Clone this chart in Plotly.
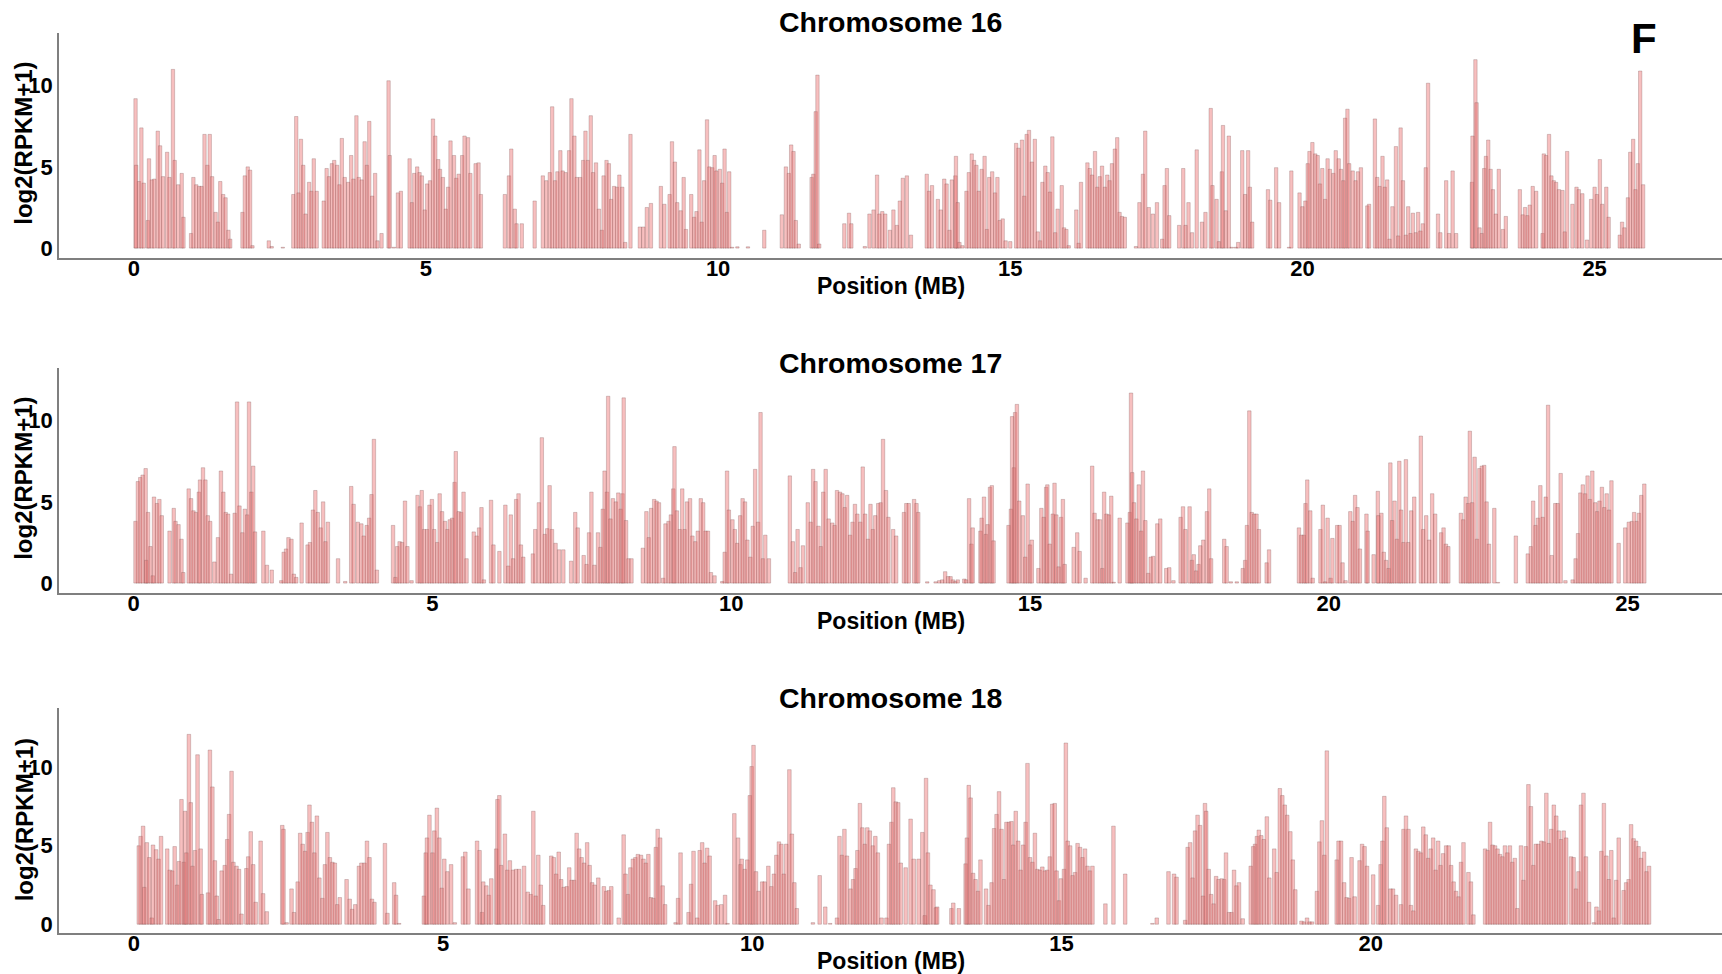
import plotly.graph_objects as go

# ---------------- Chromosome 16 ----------------
chr16_pos = [0.03,0.04,0.09,0.13,0.17,0.24,0.26,0.31,0.35,0.41,0.45,0.50,0.57,0.61,0.67,0.70,0.76,0.82,0.85,
0.98,1.02,1.07,1.12,1.16,1.21,1.26,1.30,1.34,1.40,1.44,1.48,1.53,1.57,1.62,1.65,
1.86,1.90,1.95,1.99,2.03,2.31,2.36,2.55,
2.73,2.78,2.82,2.86,2.90,2.94,3.00,3.04,3.08,3.13,3.25,3.30,3.34,3.39,3.43,3.48,3.52,3.56,3.61,3.67,3.72,3.76,3.81,3.85,3.90,3.95,3.99,4.03,4.08,4.13,4.17,4.24,4.36,4.38,4.45,4.52,4.57,
4.72,4.76,4.80,4.85,4.89,4.93,4.98,5.02,5.07,5.12,5.16,5.21,5.24,5.29,5.34,5.38,5.42,5.48,5.52,5.56,5.62,5.66,5.72,5.76,5.85,5.90,5.94,
6.35,6.42,6.46,6.52,6.55,6.64,6.86,
7.00,7.06,7.12,7.16,7.21,7.25,7.30,7.34,7.39,7.45,7.49,7.54,7.58,7.64,7.69,7.73,7.77,7.82,7.86,7.91,7.96,8.01,8.04,8.09,8.13,8.17,8.22,8.27,8.31,8.36,8.41,8.50,
8.66,8.72,8.78,8.85,9.02,9.08,9.17,9.21,9.26,9.30,9.36,9.41,9.45,9.54,9.59,9.63,9.68,9.72,9.76,9.81,9.85,9.90,9.94,9.97,10.03,10.07,10.11,10.15,10.19,10.24,10.33,10.51,10.79,
11.09,11.16,11.21,11.25,11.29,11.33,11.38,11.60,11.63,11.67,11.70,11.73,
12.16,12.24,12.28,12.51,12.59,12.66,12.72,12.76,12.81,12.86,12.94,13.00,13.06,13.11,13.16,13.23,13.30,
13.57,13.61,13.66,13.76,13.81,13.87,13.91,13.96,14.00,14.06,14.07,14.10,14.13,14.18,14.25,14.29,14.34,14.38,14.42,14.46,14.51,14.56,14.60,14.64,14.69,14.74,14.78,14.82,14.87,14.92,15.00,
15.10,15.14,15.20,15.24,15.28,15.32,15.37,15.42,15.47,15.51,15.55,15.60,15.64,15.68,15.72,15.77,15.81,15.88,15.92,15.96,16.00,
16.13,16.17,16.21,16.32,16.36,16.40,16.45,16.49,16.53,16.57,16.62,16.66,16.70,16.74,16.79,16.83,16.87,16.91,16.96,
17.15,17.21,17.27,17.31,17.37,17.44,17.51,17.60,17.64,17.68,17.72,
17.89,17.96,18.00,18.05,18.11,18.19,18.28,18.34,18.43,18.46,18.53,
18.57,18.62,18.64,18.69,18.74,18.79,18.86,18.90,18.97,19.02,19.07,19.10,19.14,
19.41,19.45,19.55,19.60,19.77,19.81,
19.95,20.00,20.05,20.09,20.12,20.17,20.22,20.26,20.30,20.34,20.39,20.43,20.47,20.53,20.57,20.62,20.66,20.70,20.73,20.77,20.80,20.86,20.91,20.95,21.00,
21.11,21.14,21.24,21.28,21.32,21.37,21.41,21.45,21.49,21.54,21.60,21.64,21.68,21.72,21.77,21.81,21.85,21.89,21.94,21.98,22.02,22.06,22.11,22.15,
22.32,22.36,22.46,22.51,22.57,22.63,
22.90,22.91,22.96,22.98,23.03,23.07,23.11,23.14,23.18,23.22,23.26,23.31,23.36,23.43,23.48,
23.72,23.77,23.81,23.85,23.89,23.94,24.00,24.11,24.13,24.17,24.22,24.26,24.30,24.34,24.39,24.45,24.49,24.53,24.62,
24.69,24.73,24.79,24.87,24.94,25.00,25.04,25.09,25.13,25.20,25.24,
25.43,25.47,25.51,25.57,25.61,25.66,25.70,25.74,25.78,25.83]
chr16_val = [9.2,5.1,4.1,7.4,4.0,1.7,5.5,4.2,4.25,7.2,6.3,4.4,5.9,4.35,11.0,5.4,3.9,4.6,1.9,
0.9,4.35,3.9,3.8,3.8,7.0,5.1,7.0,4.4,2.2,1.6,4.1,3.3,3.1,1.1,0.55,
2.2,4.45,5.0,4.8,0.15,0.45,0.1,0.05,
3.3,8.1,3.4,6.7,5.1,2.1,4.05,3.5,5.5,3.5,2.9,4.9,4.4,5.2,5.4,5.1,3.9,6.75,4.35,4.05,5.7,4.25,8.15,4.35,4.2,6.55,5.1,7.8,3.2,4.6,0.45,0.9,10.3,5.7,0.05,3.4,3.5,
5.5,2.8,4.6,5.0,4.65,4.45,2.35,3.95,4.15,7.95,6.9,5.45,4.85,4.35,2.4,3.75,6.6,5.7,4.3,4.55,5.7,6.9,6.8,4.6,5.2,5.25,3.3,
3.3,4.45,6.1,2.4,1.5,1.5,2.9,
4.45,4.15,4.65,8.7,4.15,4.7,6.0,4.75,4.65,6.0,9.2,6.9,4.35,4.35,5.4,7.2,5.4,8.15,4.65,5.25,2.4,1.1,4.45,5.4,5.2,3.0,3.8,3.75,4.5,3.75,0.35,7.0,
1.3,1.3,2.5,2.75,3.8,2.7,3.3,6.55,5.3,2.8,2.3,4.35,1.15,3.3,1.9,2.25,6.05,1.6,4.15,7.9,5.0,4.95,5.7,4.75,4.85,4.0,6.1,2.2,4.7,0.05,0.08,0.08,1.1,
2.05,5.0,4.6,6.35,5.95,1.7,0.25,4.35,4.55,8.4,10.65,0.25,
1.5,2.15,1.5,0.1,2.1,2.35,4.5,2.1,2.25,2.1,1.1,2.35,1.4,2.9,4.3,4.45,0.8,
4.55,3.5,3.85,3.0,2.35,4.25,3.95,1.1,4.2,4.45,5.65,2.8,0.35,0.15,3.5,4.65,5.8,5.4,5.1,3.5,4.85,5.65,1.15,4.35,4.7,3.4,4.35,1.7,1.8,0.45,0.4,
6.45,6.15,6.65,3.2,7.0,7.25,5.3,6.7,1.0,0.45,4.05,5.05,4.65,3.45,6.85,0.95,2.4,3.85,1.25,1.15,0.15,
2.35,0.3,4.05,5.25,4.9,4.5,5.95,3.75,4.4,5.05,3.75,4.5,4.15,5.2,6.1,6.8,2.2,1.95,1.9,
0.1,2.8,4.55,7.2,2.5,2.1,2.8,0.55,3.85,4.9,2.0,
1.4,4.9,1.4,2.8,0.95,6.05,1.6,2.2,8.6,3.85,3.0,
0.4,4.7,7.55,2.3,6.9,0.05,0.05,0.35,6.0,3.3,6.0,3.75,1.6,
3.6,2.95,4.95,2.8,0.05,4.75,
3.4,2.55,2.9,5.2,5.95,6.5,5.8,5.7,3.95,4.9,3.0,5.5,4.85,4.6,6.0,5.5,4.85,4.15,8.0,8.55,5.2,4.75,4.15,4.7,4.95,
2.6,2.7,7.95,4.35,3.8,5.65,3.75,4.2,0.55,2.55,6.25,0.75,7.4,4.15,0.8,2.55,0.9,2.15,0.95,2.2,1.05,1.5,4.95,10.15,
2.1,0.95,4.15,0.9,4.75,0.9,
4.05,6.9,11.6,8.95,1.25,0.9,4.9,5.65,6.65,4.85,3.6,2.1,4.85,1.15,1.95,
3.6,2.05,2.5,2.0,2.65,3.8,3.5,0.9,5.8,5.7,7.0,4.45,4.15,4.05,3.6,3.55,1.0,5.95,2.7,
3.75,3.6,3.35,0.5,3.0,3.75,3.3,5.45,2.7,3.75,1.9,
0.8,1.6,1.25,3.1,5.9,6.7,3.6,5.2,10.9,3.9]

# ---------------- Chromosome 17 ----------------
chr17_pos = [0.03,0.07,0.11,0.15,0.20,0.21,0.24,0.28,0.32,0.34,0.39,0.43,0.47,
0.60,0.67,0.70,0.75,0.80,0.83,
0.92,0.96,1.00,1.04,1.09,1.11,1.16,1.20,1.24,1.28,
1.35,1.41,1.46,1.50,1.54,1.58,1.63,1.69,1.73,1.77,1.82,1.86,1.90,1.93,1.97,2.00,2.03,
2.17,2.23,2.31,
2.47,2.51,2.55,2.59,2.64,2.68,2.72,2.81,2.91,2.95,3.00,3.04,3.08,3.13,3.17,3.21,3.25,
3.42,3.54,3.64,3.68,3.75,3.81,3.85,3.90,3.94,3.98,4.02,4.07,
4.34,4.38,4.41,4.45,4.49,4.54,4.58,4.65,4.75,4.79,4.82,4.86,4.91,4.95,4.99,5.03,5.08,5.12,5.16,5.21,5.25,5.29,5.33,5.37,5.39,5.44,5.48,5.52,5.57,
5.69,5.74,5.78,5.82,5.86,5.98,6.02,6.12,6.22,6.27,6.31,6.35,6.40,6.44,6.48,6.52,
6.68,6.72,6.78,6.83,6.88,6.92,6.96,7.00,7.06,7.12,7.19,7.32,7.39,7.43,
7.53,7.58,7.62,7.66,7.71,7.77,7.81,7.85,7.88,7.92,7.94,7.98,8.02,8.07,8.11,8.15,8.18,8.20,8.24,8.28,8.33,
8.52,8.58,8.62,8.66,8.71,8.75,8.79,8.86,8.90,8.95,8.99,9.03,9.05,9.09,9.14,9.18,9.22,9.26,9.31,9.35,9.40,9.44,9.49,9.53,9.57,9.61,9.66,9.72,
9.85,9.89,9.93,9.96,10.02,10.06,10.10,10.15,10.19,10.23,10.27,10.32,10.36,10.40,10.45,10.49,10.53,10.57,10.63,
10.98,11.03,11.07,11.11,11.16,11.20,11.28,11.33,11.37,11.41,11.46,11.50,11.54,11.58,11.63,
11.69,11.73,11.77,11.82,11.86,11.90,11.94,11.99,12.03,12.07,12.11,12.16,12.20,12.24,12.29,12.33,12.37,12.41,12.46,12.50,12.54,12.59,12.63,12.71,12.76,12.89,12.93,12.97,13.06,13.10,
13.13,13.28,13.42,13.48,13.53,13.58,13.63,13.67,13.71,13.75,13.79,13.90,13.93,
13.98,14.02,14.04,14.17,14.19,14.23,14.26,14.29,14.33,14.36,14.39,
14.64,14.68,14.70,14.73,14.75,14.78,14.82,14.88,14.92,14.96,15.00,15.03,
15.14,15.19,15.23,15.27,15.29,15.33,15.38,15.41,15.44,15.48,15.52,15.55,15.58,
15.73,15.79,15.83,15.93,
16.04,16.08,16.13,16.17,16.21,16.24,16.28,16.32,16.36,16.40,16.50,
16.63,16.67,16.69,16.71,16.74,16.78,16.82,16.86,16.89,16.93,16.98,17.02,17.06,17.13,17.18,17.28,17.33,17.40,
17.52,17.56,17.60,17.67,17.71,17.74,17.78,17.82,17.85,17.90,17.96,18.00,18.03,
18.25,18.29,18.36,18.46,18.56,18.60,18.63,18.67,18.71,18.75,18.79,18.83,18.96,19.00,
19.50,19.54,19.58,19.61,19.64,19.69,19.73,19.86,19.90,19.94,19.98,20.03,20.06,20.14,20.18,20.23,20.28,
20.36,20.40,20.44,20.48,20.52,20.63,20.65,20.75,20.82,20.83,20.88,20.92,20.96,21.00,21.03,21.06,21.10,21.14,21.18,21.21,21.25,21.29,21.33,21.38,21.43,21.54,21.58,21.63,21.68,21.73,21.78,21.88,21.92,21.96,22.00,
22.21,22.25,22.29,22.33,22.36,22.40,22.44,22.48,22.52,22.56,22.60,22.64,22.68,22.77,22.83,
23.13,23.33,23.38,23.42,23.46,23.50,23.54,23.58,23.63,23.67,23.73,23.79,23.83,23.88,23.96,
24.08,24.13,24.17,24.21,24.25,24.29,24.33,24.37,24.41,24.46,24.49,24.53,24.57,24.61,24.65,24.69,24.73,
24.85,24.96,25.02,25.07,25.11,25.15,25.19,25.23,25.28]
chr17_val = [3.8,6.25,6.5,6.65,7.05,1.4,4.35,2.25,0.45,5.3,4.9,5.15,4.15,
3.2,4.6,3.8,3.6,2.7,0.65,
5.8,5.2,4.45,4.35,5.6,6.35,7.1,6.35,4.15,3.8,
1.3,2.8,6.9,5.6,4.35,4.25,0.55,4.3,11.15,4.75,3.1,4.55,4.2,11.15,5.6,7.2,3.15,
3.2,1.1,0.8,
0.15,1.9,2.1,2.8,2.7,0.55,0.35,3.7,2.35,2.5,4.5,5.7,4.35,3.4,5.0,2.55,3.75,
1.5,0.1,5.95,4.85,3.75,3.65,2.9,3.55,4.0,5.45,8.85,0.8,
3.55,0.35,2.25,2.55,2.5,5.05,2.25,0.15,5.4,4.7,5.7,3.3,3.3,4.8,5.15,3.3,2.5,5.5,4.4,3.8,3.3,3.9,4.0,6.2,8.1,4.4,4.35,5.6,1.5,
3.15,2.9,3.4,4.65,0.2,5.1,2.35,1.95,4.8,1.05,4.2,1.5,5.15,5.5,2.35,1.6,
1.8,3.3,4.95,8.95,3.0,3.35,6.0,3.3,2.45,2.05,2.05,1.35,4.35,3.4,
1.7,1.15,3.1,5.6,1.1,3.1,2.2,4.55,6.9,5.6,11.5,3.95,5.2,5.0,5.55,4.55,5.5,11.4,3.85,1.5,1.5,
2.15,4.4,2.8,4.6,5.15,5.05,4.95,0.3,3.65,3.8,4.2,5.8,8.4,4.45,3.3,5.8,3.3,5.0,5.2,2.9,2.55,3.2,5.2,4.95,3.2,3.2,0.65,0.45,
0.1,1.9,6.9,4.5,3.9,3.3,2.45,4.15,5.2,5.0,2.65,1.6,3.5,7.0,3.75,10.5,1.5,2.95,1.5,
6.6,2.55,0.65,3.3,0.95,2.3,4.95,3.75,7.0,6.25,3.5,2.25,5.6,7.0,3.95,
3.7,3.55,5.7,5.6,5.5,4.65,5.4,2.95,3.75,4.85,4.25,3.75,7.15,4.25,2.7,4.85,3.3,4.15,4.9,4.95,8.85,5.7,4.05,3.3,2.9,4.35,4.9,4.9,5.15,4.9,
4.35,0.08,0.08,0.15,0.2,0.7,0.4,0.4,0.2,0.1,0.2,0.25,0.2,
5.2,2.4,3.4,3.2,4.0,5.3,3.0,3.6,5.9,6.0,2.6,
3.55,4.55,10.25,7.1,10.5,11.0,5.05,4.15,1.6,6.1,2.35,2.65,
0.9,4.6,4.05,5.9,6.05,2.4,4.25,6.15,4.2,1.0,4.05,5.15,1.15,
2.2,3.1,1.95,0.3,
7.2,4.3,3.9,3.9,0.9,5.6,4.25,4.2,5.35,0.05,4.0,
3.7,4.35,11.7,6.8,4.95,3.95,6.05,3.2,6.9,3.85,0.6,1.6,1.65,3.65,3.95,0.9,0.95,0.15,
4.05,4.7,3.3,4.7,1.4,1.75,0.75,1.15,2.3,2.65,4.4,5.8,1.5,
2.7,2.25,0.08,0.08,0.9,1.4,3.55,10.6,4.35,4.25,4.25,3.3,1.25,2.05,
3.4,2.95,2.95,4.9,6.35,4.45,0.3,3.3,4.8,0.08,4.0,0.3,2.75,3.55,3.55,1.25,0.15,
4.4,3.8,5.4,4.65,2.1,4.25,3.2,1.75,5.65,4.15,4.3,1.9,1.4,0.9,7.4,3.85,5.05,2.7,7.5,4.5,2.5,7.6,2.5,4.45,5.3,9.05,3.3,4.15,2.65,5.5,4.25,3.1,3.4,2.4,2.25,
4.3,3.9,5.3,4.9,9.35,4.95,7.75,2.7,7.05,7.2,7.25,5.0,2.4,4.6,0.04,
2.9,1.8,2.25,5.05,3.55,4.0,6.0,4.05,5.3,10.95,1.7,4.9,4.9,6.75,0.15,
0.2,1.5,3.05,5.55,6.05,5.5,6.6,5.15,6.9,4.95,4.4,5.05,5.9,4.65,5.5,4.5,6.3,
2.45,3.4,3.75,3.8,4.35,3.8,4.3,5.4,6.1]

# ---------------- Chromosome 18 ----------------
chr18_pos = [0.08,0.11,0.15,0.17,0.21,0.25,0.29,0.31,0.36,0.40,0.44,
0.54,0.58,0.62,0.66,0.70,0.73,0.77,0.81,0.83,0.85,0.89,0.92,0.95,0.99,1.03,1.08,1.10,
1.20,1.23,1.27,1.31,1.34,1.37,1.42,1.47,1.51,1.54,1.58,1.61,1.66,1.70,1.74,
1.82,1.85,1.89,1.93,1.97,2.05,2.09,2.15,
2.40,2.42,2.47,2.55,2.59,2.65,2.69,2.73,2.77,2.81,2.84,2.88,2.92,2.96,3.00,3.05,3.09,3.13,3.17,3.21,3.25,3.29,3.33,
3.44,3.49,3.53,3.58,3.64,3.68,3.73,3.77,3.81,3.85,3.89,4.06,4.10,4.21,4.24,4.29,
4.69,4.72,4.74,4.78,4.83,4.86,4.90,4.94,4.98,5.02,5.07,5.13,5.19,
5.32,5.36,5.41,5.55,5.59,5.63,5.65,5.70,5.74,5.78,
5.86,5.88,5.91,5.94,6.00,6.04,6.08,6.13,6.18,6.23,6.31,
6.37,6.42,6.46,6.50,6.54,6.58,6.62,
6.75,6.79,6.83,6.87,6.91,6.95,7.00,7.04,7.08,7.12,7.16,7.20,7.24,7.28,7.33,7.37,7.41,7.45,7.51,7.60,7.64,7.68,7.72,7.84,
7.92,7.95,7.99,8.03,8.07,8.11,8.15,8.20,8.24,8.28,8.32,8.36,8.40,8.44,8.47,8.51,8.55,8.59,
8.76,8.80,8.84,8.97,9.01,9.05,9.11,9.15,9.19,9.23,9.27,9.31,9.40,9.44,9.50,9.56,9.60,
9.71,9.77,9.81,9.83,9.88,9.92,9.96,9.99,10.02,10.06,10.10,10.16,10.20,10.26,10.31,10.35,10.39,10.43,10.47,10.51,10.55,10.60,10.64,10.68,10.72,
10.98,11.09,11.18,11.26,
11.37,11.41,11.45,11.49,11.53,11.59,11.63,11.67,11.70,11.74,11.78,11.82,11.86,11.90,11.95,11.99,12.03,12.09,12.17,12.21,12.25,12.28,12.32,12.36,12.40,12.48,12.56,12.61,12.69,
12.75,12.79,12.81,12.84,12.88,12.93,12.97,12.99,13.22,13.25,13.34,
13.45,13.47,13.50,13.53,13.57,13.61,13.65,13.69,13.78,13.82,13.87,13.91,13.95,13.99,14.03,14.07,14.11,14.15,14.19,14.22,14.26,14.30,14.34,14.38,14.42,14.45,14.49,14.53,14.57,14.61,14.65,14.69,14.73,14.77,14.81,14.85,14.89,14.92,14.96,14.99,15.04,15.07,15.10,15.14,15.18,15.22,15.26,15.30,15.34,15.38,15.42,15.46,15.50,
15.71,15.84,16.03,16.47,16.54,16.73,16.82,16.86,
17.00,17.04,17.08,17.12,17.16,17.20,17.24,17.29,17.32,17.34,17.38,17.42,17.46,17.50,17.54,17.59,17.63,17.66,17.71,17.75,17.79,17.83,17.87,17.93,
18.06,18.10,18.13,18.16,18.19,18.23,18.27,18.32,18.36,18.44,18.48,18.53,18.57,18.61,18.65,18.70,18.74,18.78,
18.88,18.92,18.97,19.01,19.05,19.13,19.17,19.21,19.25,19.29,
19.45,19.48,19.52,19.57,19.61,19.65,19.69,19.74,19.82,19.86,19.90,19.94,20.04,20.12,20.16,20.19,20.22,20.26,20.32,20.36,20.41,20.49,20.53,20.57,20.61,20.65,20.69,20.73,20.77,20.81,20.85,20.89,20.93,20.97,21.01,21.05,21.09,21.13,21.17,21.22,21.26,21.30,21.34,21.38,21.42,21.46,21.50,21.58,21.62,21.66,
21.85,21.89,21.93,21.97,22.01,22.05,22.09,22.13,22.17,22.21,22.25,22.29,22.33,22.37,
22.43,22.47,22.51,22.55,22.59,22.63,22.67,22.71,22.76,22.80,22.84,22.88,22.92,22.96,23.00,23.04,23.08,23.12,23.16,23.24,23.28,23.32,23.36,23.40,23.44,23.48,23.53,
23.61,23.65,23.69,23.73,23.77,23.81,23.85,23.89,23.93,23.97,24.01,24.09,24.13,24.17,24.21,24.25,24.29,24.33,24.37,24.42,24.46,24.50]
chr18_val = [5.0,5.6,6.25,2.35,5.2,4.25,0.4,5.05,4.75,4.15,5.6,
4.8,3.45,3.4,4.95,2.5,4.0,7.95,3.95,7.2,4.55,12.1,7.75,3.7,4.7,10.8,4.8,1.9,
2.0,11.1,8.75,4.05,1.8,0.3,3.4,3.75,5.4,7.0,9.75,3.95,3.7,3.5,0.65,
3.55,4.3,5.9,3.8,1.4,5.3,1.95,0.8,
6.3,6.05,0.1,2.25,0.75,2.7,5.8,5.1,4.65,5.85,7.6,6.5,4.55,6.9,2.95,1.65,3.8,5.85,4.25,3.95,3.9,1.25,1.7,
2.85,1.6,0.95,1.25,3.7,3.9,3.9,5.3,4.25,1.6,1.4,5.15,0.7,2.65,1.85,0.05,
1.8,4.55,5.5,6.95,4.55,5.95,7.4,5.5,2.3,4.15,3.35,3.8,0.1,
4.3,4.6,2.25,5.3,4.7,0.75,2.7,2.45,1.85,2.9,
4.8,7.95,8.2,3.75,5.75,3.45,4.05,3.45,3.5,3.5,3.7,
2.05,1.9,7.2,1.8,4.4,2.5,1.2,
4.35,4.25,3.2,4.6,2.85,2.35,2.4,3.6,2.8,2.8,5.8,4.8,4.25,3.9,5.2,3.75,2.65,2.5,2.95,2.4,2.1,2.15,2.4,0.4,
5.7,3.2,1.9,3.6,4.15,4.25,4.45,4.4,4.15,3.9,4.45,1.7,1.65,4.9,6.05,5.5,2.45,1.25,
0.1,1.65,4.55,0.75,2.55,4.65,0.4,4.7,5.2,3.9,4.85,4.35,1.5,1.2,1.25,1.85,0.05,
7.05,5.5,3.8,4.15,3.5,4.1,8.2,10.05,11.4,3.35,2.1,2.7,2.7,3.7,2.4,3.2,4.4,5.25,5.1,3.2,5.1,9.85,5.75,2.65,1.0,
0.1,3.1,1.1,0.05,
0.4,5.6,4.4,6.05,4.35,2.25,2.85,3.55,4.7,7.7,6.15,5.1,6.15,5.95,5.0,5.6,4.55,0.4,0.4,5.1,6.5,8.7,7.8,7.75,3.9,3.6,6.7,4.15,4.15,
5.85,0.55,9.3,4.55,2.5,2.2,1.05,1.1,1.0,1.35,1.0,
3.85,5.5,8.85,8.05,3.25,2.85,2.1,4.1,2.25,1.2,2.65,6.1,7.0,8.45,6.05,2.85,6.5,6.5,6.55,5.05,7.2,5.3,3.45,5.05,6.5,10.25,4.25,3.95,5.8,3.5,3.45,3.65,3.4,3.45,4.3,7.65,7.7,3.4,1.5,2.9,3.5,11.55,5.3,5.0,3.1,3.3,5.15,4.9,4.25,4.8,3.7,3.4,3.7,
1.3,6.25,3.2,0.05,0.4,3.35,3.2,3.0,
0.25,4.9,5.2,2.95,5.95,6.95,6.3,1.8,7.7,7.2,3.5,1.9,1.3,3.05,2.85,2.9,2.85,4.55,0.75,0.75,3.45,2.45,2.65,0.35,
3.7,4.95,5.1,5.6,6.0,5.65,5.4,6.85,2.95,4.8,3.3,8.65,8.2,7.6,6.95,5.9,4.1,2.2,
0.2,0.15,0.4,0.15,0.15,2.1,5.25,6.6,4.4,11.05,
4.1,5.3,5.3,2.65,1.7,1.65,4.25,1.75,4.05,5.1,4.95,3.7,3.15,1.2,3.8,5.3,8.15,6.15,2.25,2.25,1.85,1.25,6.05,6.9,6.05,1.2,0.85,4.8,4.65,4.55,6.2,5.7,4.2,4.8,5.5,3.45,5.3,3.75,4.5,5.0,5.0,3.75,2.7,2.1,1.75,3.95,5.2,3.3,2.7,0.6,
4.8,4.7,6.5,5.05,5.0,4.8,4.45,4.3,5.0,4.55,5.0,3.95,4.2,1.0,
5.0,2.8,4.95,8.9,7.5,3.75,5.1,5.1,5.3,5.25,8.35,5.15,6.05,7.6,6.9,5.95,5.4,5.95,5.5,4.3,4.25,2.25,3.35,7.6,8.35,4.3,1.4,
0.1,1.1,0.85,4.65,7.7,4.35,2.85,4.7,0.4,2.8,5.5,2.15,2.65,2.85,6.35,5.45,5.3,4.95,4.2,4.6,3.35,3.7]

panel_titles = ["Chromosome 16", "Chromosome 17", "Chromosome 18"]
x_ticks = [[0, 5, 10, 15, 20, 25], [0, 5, 10, 15, 20, 25], [0, 5, 10, 15, 20]]
y_ticks = [0, 5, 10]
x_title = "Position (MB)"
y_title = "log2(RPKM+1)"
panel_letter = "F"

series = [(chr16_pos, chr16_val), (chr17_pos, chr17_val), (chr18_pos, chr18_val)]

FONT = "Liberation Sans, Arial, sans-serif"
fig = go.Figure()
for i, (p, v) in enumerate(series):
    sfx = "" if i == 0 else str(i + 1)
    fig.add_trace(go.Bar(
        x=p, y=v, width=0.058,
        marker=dict(color="rgba(238,112,112,0.45)",
                    line=dict(color="rgba(120,80,80,0.28)", width=1)),
        xaxis="x" + sfx, yaxis="y" + sfx, showlegend=False, hoverinfo="x+y"))

y_domains = [[0.75, 1.0], [0.3778, 0.6278], [0.0, 0.25]]
x_ranges = [[-1.28, 27.18], [-1.25, 26.58], [-1.21, 25.68]]
y_ranges = [[-0.61, 13.24], [-0.61, 13.24], [-0.56, 13.78]]

axis_common = dict(showline=True, linecolor="#7f7f7f", linewidth=1.5, showgrid=False,
                   zeroline=False, ticks="", automargin=False,
                   tickfont=dict(family=FONT, size=22, color="black", weight="bold"))
layout = dict(barmode="overlay", width=1722, height=974, plot_bgcolor="white",
              paper_bgcolor="white", margin=dict(l=59, r=0, t=33, b=41))
for i in range(3):
    sfx = "" if i == 0 else str(i + 1)
    layout["xaxis" + sfx] = dict(axis_common, domain=[0, 1], anchor="y" + sfx,
                                 range=x_ranges[i], tickvals=x_ticks[i],
                                 ticklabelstandoff=-10)
    layout["yaxis" + sfx] = dict(axis_common, domain=y_domains[i], anchor="x" + sfx,
                                 range=y_ranges[i], tickvals=y_ticks)
fig.update_layout(**layout)

title_y = [1.0122, 0.6329, 0.2608]
xtitle_y = [0.7194, 0.3462, -0.0309]
ytitle_y = [0.877, 0.5047, 0.1253]
ann = []
for i in range(3):
    ann.append(dict(text=panel_titles[i], x=0.5, y=title_y[i], xref="paper", yref="paper",
                    showarrow=False, xanchor="center", yanchor="middle",
                    font=dict(family=FONT, size=28.5, color="black", weight="bold")))
    ann.append(dict(text=x_title, x=0.5, y=xtitle_y[i], xref="paper", yref="paper",
                    showarrow=False, xanchor="center", yanchor="middle",
                    font=dict(family=FONT, size=23, color="black", weight="bold")))
    ann.append(dict(text=y_title, x=-0.021, y=ytitle_y[i], xref="paper", yref="paper",
                    showarrow=False, xanchor="center", yanchor="middle", textangle=-90,
                    font=dict(family=FONT, size=24, color="black", weight="bold")))
ann.append(dict(text=panel_letter, x=0.953, y=0.9944, xref="paper", yref="paper",
                showarrow=False, xanchor="center", yanchor="middle",
                font=dict(family=FONT, size=42, color="black", weight="bold")))
fig.update_layout(annotations=ann)

fig.write_html("out.html", config={"displayModeBar": False},
               post_script="document.body.style.margin='0px';document.body.style.overflow='hidden';")
